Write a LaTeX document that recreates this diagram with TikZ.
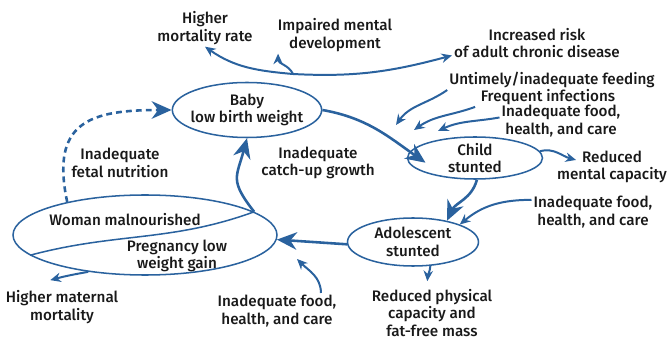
\documentclass[tikz,border=0pt]{standalone}
\usepackage{fontspec}
\setmainfont{Fira Sans Medium}
\usetikzlibrary{arrows.meta,shapes.geometric,positioning}
\definecolor{cycleblue}{RGB}{42,98,158}

\begin{document}
\begin{tikzpicture}[x=0.03cm,y=-0.03cm,->,>={Stealth[length=9pt,width=8pt]},
                    line width=1.7pt,draw=cycleblue,
                    font=\fontsize{13}{15}\selectfont]
	  \tikzstyle{stage}=[ellipse,draw=cycleblue,line width=1.3pt,text=black!90,align=center,inner sep=-3pt]
	  \tikzstyle{note}=[text=black!90,align=center,inner sep=1pt]
	  \tikzstyle{big}=[line width=2.2pt,-{Stealth[length=17pt,width=15pt]}]

	  \useasboundingbox (0,0) rectangle (671,343);

	  % life-cycle stages
	  \node[stage,minimum width=4.35cm,minimum height=1.65cm] (baby)  at (247,110) {Baby\\low birth weight};
	  \node[stage,minimum width=4.05cm,minimum height=1.26cm] (child) at (475,158) {Child\\stunted};
	  \node[stage,minimum width=3.93cm,minimum height=1.44cm] (adol)  at (413,242) {Adolescent\\stunted};
	  \node[stage,minimum width=7.92cm,minimum height=2.4cm]  (woman) at (145,235) {};

	  \node[note] (wmal) at (125,220) {Woman malnourished};
	  \node[note] (preg) at (177,256) {Pregnancy low\\weight gain};

	  % causes and consequences
	  \node[note] (mort)    at (205,28)  {Higher\\mortality rate};
	  \node[note] (impair)  at (335,35)  {Impaired mental\\development};
	  \node[note] (risk)    at (537,43)  {Increased risk\\of adult chronic disease};
	  \node[note] (feed)    at (552,80)  {Untimely/inadequate feeding};
	  \node[note] (infect)  at (548,97)  {Frequent infections};
	  \node[note] (food1)   at (561,121) {Inadequate food,\\health, and care};
	  \node[note] (redment) at (612,167) {Reduced\\mental capacity};
	  \node[note] (food2)   at (593,212) {Inadequate food,\\health, and care};
	  \node[note] (redphys) at (432,313) {Reduced physical\\capacity and\\fat-free mass};
	  \node[note] (food3)   at (277,311) {Inadequate food,\\health, and care};
	  \node[note] (matmort) at (62,307)  {Higher maternal\\mortality};
	  \node[note] (fetal)   at (120,163) {Inadequate\\fetal nutrition};
	  \node[note] (catchup) at (318,163) {Inadequate\\catch-up growth};

	  \coordinate (hub)    at (293,74);
	  \coordinate (tfeed)  at (396,125);
	  \coordinate (tinf)   at (414,130);
	  \coordinate (tfood)  at (438,131);
	  \coordinate (tfood3) at (297,259);

	  % main cycle
	  \path (baby.east) edge[big,out=-10,in=145] ([xshift=16pt,yshift=-4pt]child.west)
	  (child.-85) edge[big,out=-105,in=65] (adol.32)
	  (adol.182) edge[big] (woman.-2)
	  (woman.12) edge[big,out=128,in=-105,looseness=1.4] (baby.south)
	  (woman.157) edge[big,dashed,dash pattern=on 5pt off 3.5pt,out=102,in=180,looseness=1.5] (baby.west);
	  \draw[-,line width=1.3pt] (woman.12) to[out=200,in=15] (woman.190);

	  % side arrows
	  \path (hub) edge[out=175,in=-35] (mort.south)
	  edge[out=115,in=-90] ([xshift=2pt]impair.south west)
	  edge[out=-3,in=195] ([yshift=4pt]risk.south west);
	  \path (feed.south west) edge[out=215,in=55] (tfeed)
	  ([xshift=-3pt]infect.south west) edge[out=200,in=35] (tinf)
	  ([yshift=3pt]food1.west) edge[out=190,in=25] (tfood)
	  (child.6) edge[out=15,in=165] ([xshift=18pt,yshift=6pt]redment.west)
	  ([yshift=-5pt]food2.north west) edge[out=180,in=40] (adol.north east)
	  (adol.-54) edge[out=-95,in=85] ([xshift=-4pt,yshift=5pt]redphys.north)
	  ([xshift=-15pt]food3.north east) edge[out=90,in=-45] (tfood3)
	  (woman.213) edge[out=190,in=15] ([xshift=-10pt,yshift=7pt]matmort.north);
	\end{tikzpicture}
\end{document}
